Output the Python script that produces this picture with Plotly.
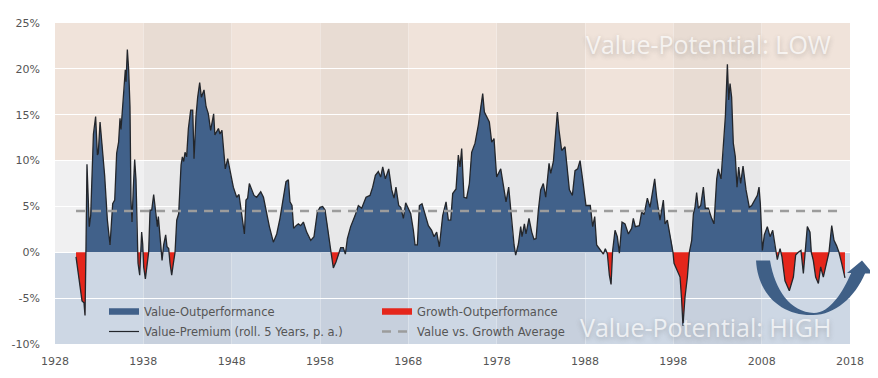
import plotly.graph_objects as go

years = [
 1930.38,1930.72,1931.06,1931.28,1931.4,1931.5,1931.62,1931.88,1932.04,1932.35,1932.45,1932.6,1932.8,1932.9,1933.1,1933.36,1933.62,1933.93,1934.23,1934.53,
 1934.76,1934.98,1935.2,1935.36,1935.47,1935.66,1935.89,1935.96,1936.04,1936.19,1936.34,1936.49,1936.6,1936.72,1936.87,1937.02,1937.17,1937.28,1937.4,1937.59,
 1937.7,1937.81,1937.93,1938.04,1938.23,1938.45,1938.6,1938.76,1938.95,1939.17,1939.4,1939.59,1939.7,1939.96,1940.12,1940.3,1940.53,1940.68,1940.87,1941.02,
 1941.21,1941.4,1941.59,1941.78,1942.0,1942.27,1942.42,1942.57,1942.72,1942.9,1943.1,1943.36,1943.59,1943.74,1943.96,1944.15,1944.38,1944.57,1944.87,1945.1,
 1945.36,1945.62,1945.96,1946.1,1946.5,1946.68,1946.9,1947.06,1947.28,1947.55,1947.81,1948.19,1948.57,1948.83,1949.13,1949.44,1949.62,1949.81,1950.0,1950.26,
 1950.53,1950.83,1951.29,
 1951.6,1951.89,1952.27,1952.72,1953.1,1953.47,1953.85,1954.15,1954.42,1954.6,1954.83,1955.02,1955.29,1955.55,1955.81,1956.12,1956.49,1956.72,1956.95,1957.32,
 1957.7,1958.0,1958.3,1958.57,1958.87,1959.13,1959.25,1959.51,1959.81,1960.19,1960.34,1960.64,1960.87,1961.1,1961.47,1961.97,1962.34,1962.72,1963.21,1963.66,
 1963.96,1964.27,1964.6,1964.87,1965.1,1965.4,1965.78,1966.12,1966.38,1966.6,1966.91,1967.14,1967.44,1967.7,1968.0,1968.27,1968.57,1968.76,1969.02,1969.25,
 1969.55,1969.85,1970.27,1970.64,1970.91,1971.21,1971.51,1971.89,1972.27,1972.53,1972.8,
 1973.02,1973.4,1973.66,1973.85,1974.04,1974.3,1974.6,1974.91,1975.17,1975.55,1975.93,1976.19,1976.42,1976.61,1976.95,1977.17,1977.44,1977.7,1978.0,1978.46,
 1978.76,1979.06,1979.36,1979.59,1979.81,1979.97,1980.15,1980.46,1980.72,1980.87,1981.14,1981.32,1981.66,1981.97,1982.23,1982.46,1982.72,1982.98,1983.28,1983.55,
 1983.93,1984.12,1984.42,1984.68,1984.87,1985.06,1985.36,1985.74,1986.0,1986.23,1986.57,1986.87,1987.17,1987.44,1987.74,1988.11,1988.38,1988.6,1988.87,1989.1,
 1989.32,1989.7,1990.08,1990.3,1990.53,1990.76,1990.95,1991.13,1991.4,1991.66,1991.89,1992.19,1992.53,1992.91,1993.28,1993.47,1993.7,1994.15,1994.42,1994.68,
 1995.06,
 1995.36,1995.55,1995.89,1996.11,1996.49,1996.87,1997.06,1997.32,1997.62,1997.85,1997.96,1998.08,1998.45,1998.76,1998.94,1999.09,1999.32,1999.59,1999.81,2000.08,
 2000.27,2000.45,2000.64,2000.83,2001.1,2001.4,2001.62,2001.96,2002.34,2002.6,2002.91,2003.09,2003.4,2003.66,2003.89,2004.12,2004.27,2004.42,2004.6,2004.79,
 2005.02,2005.21,2005.4,2005.62,2005.89,2006.23,2006.6,2006.87,2007.25,2007.51,2007.7,2007.85,2008.08,2008.3,2008.64,2008.95,2009.25,2009.51,2009.77,2010.08,
 2010.3,2010.64,2011.13,2011.59,2011.85,2012.15,2012.45,2012.72,2012.91,2013.17,2013.47,2013.62,2013.85,2014.11,2014.42,2014.68,2014.98,2015.36,2015.62,2015.93,
 2016.19,2016.49,2016.75,2017.06,2017.43,
]
premium = [
 -0.5,-3.0,-5.3,-5.5,-6.9,0.0,9.6,2.8,4.0,12.9,13.5,14.8,10.6,10.8,14.2,11.5,8.4,3.5,0.8,5.3,
 5.7,10.8,12.0,14.6,13.4,15.9,18.4,19.9,18.6,22.1,19.9,15.9,5.7,3.3,7.1,10.1,7.9,1.3,-1.2,-2.5,
 -0.1,2.2,0.9,-1.6,-2.9,-1.2,0.0,4.6,4.6,6.3,4.2,2.8,3.9,0.9,-0.9,0.8,1.9,0.6,0.4,-1.2,
 -2.5,-1.2,0.0,3.5,4.2,9.5,10.4,9.9,10.9,10.4,13.5,15.5,15.5,10.2,14.8,16.9,18.5,16.9,17.7,15.9,
 15.1,13.3,15.1,12.8,13.5,12.9,13.3,11.5,9.1,10.2,8.8,7.1,6.0,6.3,4.2,2.0,5.7,5.9,7.5,6.8,
 6.2,6.0,6.6,
 6.0,4.6,2.8,1.1,2.0,3.7,6.0,7.7,7.9,5.5,5.1,2.6,2.9,3.1,2.9,3.3,2.2,1.7,1.3,1.7,
 4.4,4.9,5.0,4.6,2.8,0.8,0.0,-1.7,-1.05,-0.1,0.5,0.5,-0.2,1.5,2.8,4.0,5.1,4.8,6.0,6.2,
 7.1,8.4,8.8,8.2,9.3,8.0,9.1,6.8,5.9,7.1,5.1,4.9,3.7,5.4,4.8,4.2,2.4,0.8,0.8,5.1,
 5.3,4.4,2.9,2.4,1.7,2.2,0.6,4.0,5.5,3.5,3.5,
 6.4,6.9,10.6,9.3,11.3,6.0,5.9,7.5,10.9,11.9,13.9,15.9,17.3,15.3,14.6,14.2,12.0,12.4,8.2,9.1,
 7.3,5.5,7.1,4.6,2.0,0.8,-0.3,0.9,2.8,1.7,3.1,2.0,3.7,2.2,1.4,1.5,4.6,6.8,7.5,6.0,
 9.7,8.6,9.9,13.3,15.3,13.3,11.1,11.5,9.3,6.8,6.2,8.9,9.1,10.0,7.9,5.1,5.1,5.1,2.8,3.9,
 0.8,0.3,-0.2,0.4,-0.15,-2.5,-3.5,0.2,2.4,1.7,-0.1,3.3,3.1,2.0,2.6,3.7,2.8,2.9,4.4,4.1,
 5.9,
 4.9,6.0,8.0,6.0,3.5,5.7,3.1,3.5,2.0,0.9,0.0,-1.2,-2.0,-2.7,-5.2,-8.0,-4.9,-2.7,0.0,1.3,
 4.2,4.9,6.5,4.8,5.1,7.1,4.8,4.8,3.7,3.1,8.0,9.1,8.0,11.1,14.8,20.5,16.6,18.4,16.9,11.9,
 10.4,7.1,9.3,7.5,9.4,6.8,4.9,5.1,5.7,6.2,7.1,5.3,0.2,1.9,2.8,1.7,2.4,0.6,-0.8,0.4,
 -0.5,-3.1,-4.2,-2.7,-0.3,0.0,0.2,-2.3,-0.1,2.8,2.2,0.0,-0.9,-2.7,-3.4,-1.6,-2.7,-1.2,0.0,2.9,
 1.3,0.7,0.0,-1.2,-2.8,
]
average_value = 4.5
average_years = [1930.38, 2016.6]
x_ticks = [1928, 1938, 1948, 1958, 1968, 1978, 1988, 1998, 2008, 2018]
y_ticks = [25, 20, 15, 10, 5, 0, -5, -10]
y_labels = ["25%", "20%", "15%", "10%", "5%", "0%", "-5%", "-10%"]
band_starts = [1938, 1958, 1978, 1998]

BLUE, RED, INK = "#41618a", "#e5261b", "#23262b"

# split at the zero crossings so each area closes on the axis
xs, ys = [], []
for i, (a, b) in enumerate(zip(years, premium)):
    if i and premium[i - 1] * b < 0:
        xa, ya = years[i - 1], premium[i - 1]
        xs.append(xa + (a - xa) * ya / (ya - b))
        ys.append(0.0)
    xs.append(a)
    ys.append(b)
pos = [max(v, 0) for v in ys]
neg = [min(v, 0) for v in ys]
FONT = "DejaVu Sans"

fig = go.Figure()
fig.add_trace(go.Scatter(x=xs, y=pos, fill="tozeroy", fillcolor=BLUE, mode="none",
                         showlegend=False, hoverinfo="skip"))
fig.add_trace(go.Scatter(x=xs, y=neg, fill="tozeroy", fillcolor=RED, mode="none",
                         showlegend=False, hoverinfo="skip"))
fig.add_trace(go.Scatter(x=years, y=premium, mode="lines", line=dict(color=INK, width=1.3),
                         showlegend=False, hoverinfo="skip"))
fig.add_trace(go.Scatter(x=average_years, y=[average_value] * 2, mode="lines",
                         line=dict(color="#9c9c9c", width=2.4, dash="9px,7px"),
                         showlegend=False, hoverinfo="skip"))
# legend entries
fig.add_trace(go.Scatter(x=[None], y=[None], mode="lines", name="Value-Outperformance",
                         line=dict(color=BLUE, width=6.5), legend="legend", legendgroup="a"))
fig.add_trace(go.Scatter(x=[None], y=[None], mode="lines", name="Value-Premium (roll. 5 Years, p. a.)",
                         line=dict(color=INK, width=1.2), legend="legend", legendgroup="b"))
fig.add_trace(go.Scatter(x=[None], y=[None], mode="lines", name="Growth-Outperformance",
                         line=dict(color=RED, width=6.5), legend="legend2", legendgroup="c"))
fig.add_trace(go.Scatter(x=[None], y=[None], mode="lines", name="Value vs. Growth Average",
                         line=dict(color="#9c9c9c", width=2.4, dash="9px,7px"), legend="legend2", legendgroup="d"))

shapes = [
    dict(type="rect", xref="x", yref="y", x0=1928, x1=2018, y0=10, y1=25, fillcolor="#f0e3da", line_width=0, layer="below"),
    dict(type="rect", xref="x", yref="y", x0=1928, x1=2018, y0=0, y1=10, fillcolor="#f0f0f1", line_width=0, layer="below"),
    dict(type="rect", xref="x", yref="y", x0=1928, x1=2018, y0=-10, y1=0, fillcolor="#cdd7e4", line_width=0, layer="below"),
]
for s in band_starts:
    shapes.append(dict(type="rect", xref="x", yref="y", x0=s, x1=s + 10, y0=-10, y1=25,
                       fillcolor="rgba(70,60,60,0.045)", line_width=0, layer="below"))

# decorative curved arrow, described in reference pixels and placed on the paper
def P(px, py):
    return f"{(px - 55) / 795:.4f},{(344 - py) / 321:.4f}"
arrow = ("M" + P(756, 260.5) + " L" + P(770, 260.5)
         + " C" + P(775, 290) + " " + P(790, 312) + " " + P(814, 313)
         + " C" + P(830, 313) + " " + P(843, 292) + " " + P(851, 273)
         + " L" + P(847, 273) + " L" + P(862, 260.5) + " L" + P(873, 273.5)
         + " L" + P(865, 273.5)
         + " C" + P(855, 297) + " " + P(835, 315) + " " + P(813, 315)
         + " C" + P(782, 316) + " " + P(758, 295) + " " + P(756, 260.5) + " Z")
shapes.append(dict(type="path", xref="paper", yref="paper", path=arrow, fillcolor="#3f5f86", line_width=0, layer="above"))

def label(text, y):
    return dict(text=text, xref="paper", yref="y", x=0.979, xanchor="right", y=y, yanchor="middle",
                showarrow=False, font=dict(family="Open Sans", size=25, color="rgba(255,255,255,0.72)",
                                           shadow="0px 2px 5px rgba(90,90,90,0.45)"))

# the page body has an 8px margin, so the figure is 16px smaller and the margins 8px tighter
fig.update_layout(
    width=870, height=370, margin=dict(l=47, r=28, t=15, b=34, autoexpand=False),
    paper_bgcolor="white", plot_bgcolor="white", shapes=shapes,
    annotations=[label("Value-Potential: LOW", 22.7), label("Value-Potential: HIGH", -8.1)],
    font=dict(family=FONT, size=11, color="#555555"),
    xaxis=dict(range=[1928, 2018], tickvals=x_ticks, ticklabelstandoff=9, showline=False, zeroline=False,
               automargin=False, showgrid=True, gridcolor="rgba(255,255,255,0.3)", gridwidth=1, ticks=""),
    yaxis=dict(range=[-10, 25], tickvals=y_ticks, ticktext=y_labels, ticklabelstandoff=14, showline=False,
               automargin=False, zeroline=False, showgrid=True, gridcolor="white", gridwidth=1.2, ticks=""),
    legend=dict(x=(104 - 55) / 795, xanchor="left", y=(344 - 297) / 321, yanchor="top",
                bgcolor="rgba(0,0,0,0)", itemwidth=30, tracegroupgap=1, font=dict(size=11.5, color="#555555")),
    legend2=dict(x=(377 - 55) / 795, xanchor="left", y=(344 - 297) / 321, yanchor="top",
                 bgcolor="rgba(0,0,0,0)", itemwidth=30, tracegroupgap=1, font=dict(size=11.5, color="#555555")),
)
fig.write_html("out.html")
